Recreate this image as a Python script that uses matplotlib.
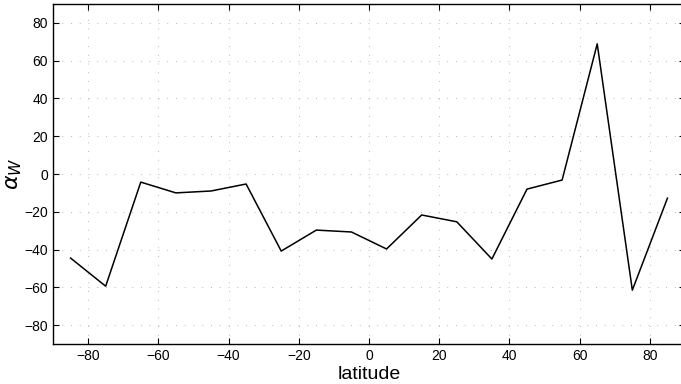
import matplotlib
matplotlib.use("Agg")
import matplotlib.pyplot as plt

latitude = [-85, -75, -65, -55, -45, -35, -25, -15, -5, 5, 15, 25, 35, 45, 55, 65, 75, 85]
alpha_w = [-44.5, -59.4, -4.3, -10, -9, -5.3, -40.8, -29.7, -30.7, -39.7,
           -21.7, -25.3, -45, -8, -3.2, 68.9, -61.5, -12.8]
xticks = [-80, -60, -40, -20, 0, 20, 40, 60, 80]
yticks = [-80, -60, -40, -20, 0, 20, 40, 60, 80]

plt.rcParams['font.family'] = ['Liberation Sans', 'DejaVu Sans']

fig = plt.figure(figsize=(6.81, 3.84), dpi=100)
ax = fig.add_axes([53 / 681, 40 / 384, 632 / 681, 340 / 384])

ax.plot(latitude, alpha_w, color='black', linewidth=1.1)

ax.set_xlim(-90, 90)
ax.set_ylim(-90, 90)
ax.set_xticks(xticks)
ax.set_yticks(yticks)
ax.set_xticklabels([str(t).replace('-', '\u2212') for t in xticks])
ax.set_yticklabels([str(t).replace('-', '\u2212') for t in yticks])
ax.tick_params(direction='in', top=True, right=True, labelsize=10, length=4)
# sparse, faint dotted grid like the scanned original
ax.grid(True, color='#999999', linestyle=(0, (1, 8)), linewidth=0.7, alpha=0.7)

ax.set_xlabel('latitude', fontsize=14, labelpad=2)
ax.set_ylabel(r'$\alpha_W$', fontsize=16, labelpad=0)

for s in ax.spines.values():
    s.set_linewidth(1.0)

fig.savefig('out.png', dpi=100)
